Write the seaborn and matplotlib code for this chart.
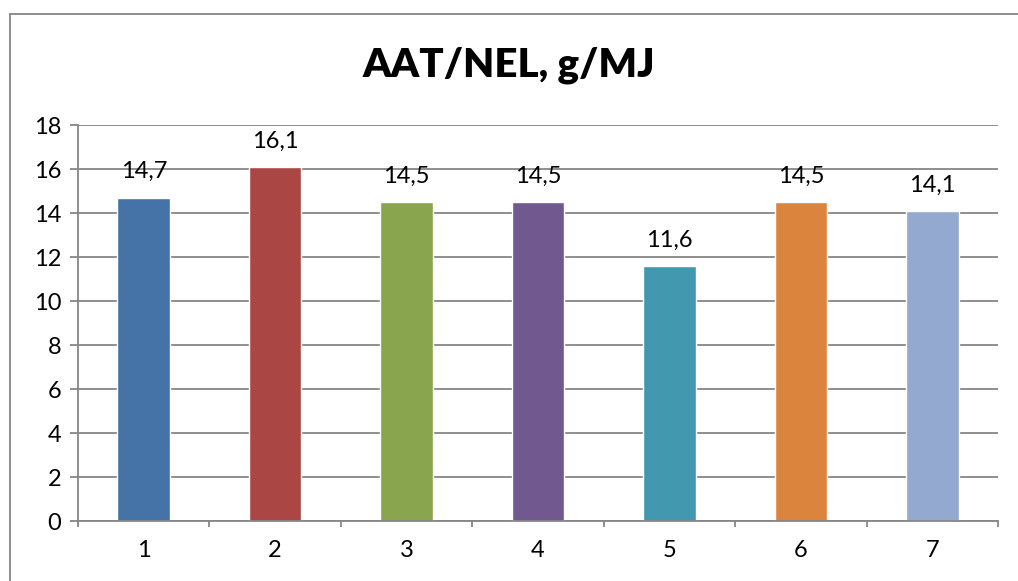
import matplotlib
matplotlib.use("Agg")
import matplotlib.pyplot as plt
import seaborn as sns
import pandas as pd
from matplotlib.lines import Line2D

categories = ["1", "2", "3", "4", "5", "6", "7"]
values = [14.7, 16.1, 14.5, 14.5, 11.6, 14.5, 14.1]
colors = ["#4572A7", "#AA4643", "#89A54E", "#71588F", "#4198AF", "#DB843D", "#93A9CF"]
y_ticks = [0, 2, 4, 6, 8, 10, 12, 14, 16, 18]
title = "AAT/NEL, g/MJ"

sns.set_theme(style="white")
plt.rcParams["font.family"] = ["Lato", "DejaVu Sans"]

df = pd.DataFrame({"cat": categories, "val": values})

W, H = 1018, 581
fig = plt.figure(figsize=(W / 100, H / 100), dpi=100)
ax = fig.add_axes([78 / W, 1 - 521 / H, (998 - 78) / W, (521 - 125) / H])

sns.barplot(data=df, x="cat", y="val", hue="cat", palette=colors, width=0.4,
            legend=False, ax=ax, saturation=1)

grid_c = "#868686"
ax.set_ylim(0, 18)
ax.set_xlim(-0.5, len(categories) - 0.5)
ax.set_yticks(y_ticks)
ax.set_yticklabels([str(t) for t in y_ticks], fontsize=17)
ax.yaxis.grid(True, color=grid_c, linewidth=1.3)
ax.set_axisbelow(True)
ax.set_xlabel("")
ax.set_ylabel("")

for s in ["top", "right"]:
    ax.spines[s].set_visible(False)
for s in ["left", "bottom"]:
    ax.spines[s].set_color(grid_c)
    ax.spines[s].set_linewidth(1.3)

ax.tick_params(axis="y", which="major", direction="out", length=6, width=1.3,
               color=grid_c, left=True, pad=6, labelcolor="black")
ax.tick_params(axis="x", which="major", length=0, pad=14, labelsize=17,
               labelcolor="black")
ax.set_xticks([i - 0.5 for i in range(len(categories) + 1)], minor=True)
ax.tick_params(axis="x", which="minor", direction="out", length=4, width=1.3,
               color=grid_c, bottom=True)

for i, v in enumerate(values):
    ax.annotate(f"{v:.1f}".replace(".", ","), (i, v), xytext=(0, 11),
                textcoords="offset points", ha="center", va="bottom",
                fontsize=17, color="black")

fig.text(0.5, 1 - 65 / H, title, ha="center", va="center", fontsize=29,
         fontweight="heavy", color="black")

# outer chart frame (left and top edges)
x0 = 9.5 / W
y0 = 1 - 13.5 / H
fig.add_artist(Line2D([x0, x0], [0, y0], transform=fig.transFigure,
                      color=grid_c, linewidth=1.3))
fig.add_artist(Line2D([x0, 1], [y0, y0], transform=fig.transFigure,
                      color=grid_c, linewidth=1.3))

fig.savefig("out.png", dpi=100)
